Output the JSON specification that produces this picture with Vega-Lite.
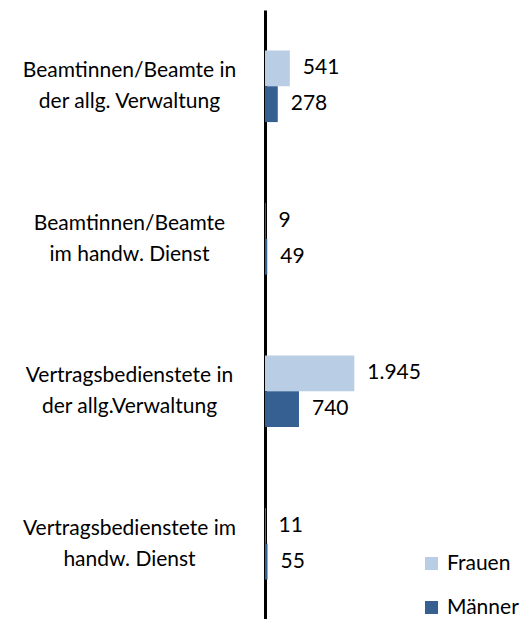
{
  "$schema": "https://vega.github.io/schema/vega-lite/v6.json",
  "width": 264,
  "height": 610,
  "autosize": "none",
  "padding": {"left": 265, "top": 10, "right": 0, "bottom": 0},
  "background": "white",
  "config": {
    "view": {"stroke": null},
    "font": "Lato",
    "locale": {"number": {"decimal": ",", "thousands": ".", "grouping": [3], "currency": ["", " €"]}}
  },
  "data": {
    "values": [
      {"kategorie": "Beamtinnen/Beamte in|der allg. Verwaltung", "geschlecht": "Frauen", "anzahl": 541},
      {"kategorie": "Beamtinnen/Beamte in|der allg. Verwaltung", "geschlecht": "Männer", "anzahl": 278},
      {"kategorie": "Beamtinnen/Beamte|im handw. Dienst", "geschlecht": "Frauen", "anzahl": 9},
      {"kategorie": "Beamtinnen/Beamte|im handw. Dienst", "geschlecht": "Männer", "anzahl": 49},
      {"kategorie": "Vertragsbedienstete in|der allg.Verwaltung", "geschlecht": "Frauen", "anzahl": 1945},
      {"kategorie": "Vertragsbedienstete in|der allg.Verwaltung", "geschlecht": "Männer", "anzahl": 740},
      {"kategorie": "Vertragsbedienstete im|handw. Dienst", "geschlecht": "Frauen", "anzahl": 11},
      {"kategorie": "Vertragsbedienstete im|handw. Dienst", "geschlecht": "Männer", "anzahl": 55}
    ]
  },
  "encoding": {
    "y": {
      "field": "kategorie", "type": "nominal", "sort": null,
      "scale": {"paddingInner": 0.53, "paddingOuter": 0.265},
      "axis": {
        "title": null, "ticks": false, "grid": false,
        "domainColor": "black", "domainWidth": 3,
        "labelExpr": "split(datum.label, '|')",
        "labelAlign": "center", "labelPadding": 136,
        "labelFontSize": 21, "labelLineHeight": 31, "labelColor": "black",
        "labelLimit": 300, "labelBaseline": "middle", "labelOffset": -15
      }
    },
    "yOffset": {"field": "geschlecht", "type": "nominal", "sort": ["Frauen", "Männer"]},
    "x": {
      "field": "anzahl", "type": "quantitative",
      "scale": {"domain": [0, 5750], "nice": false},
      "axis": null
    }
  },
  "layer": [
    {
      "mark": {"type": "bar"},
      "encoding": {
        "color": {
          "field": "geschlecht", "type": "nominal",
          "scale": {"domain": ["Frauen", "Männer"], "range": ["#b9cde5", "#366092"]},
          "legend": {
            "title": null, "orient": "none", "legendX": 156, "legendY": 543,
            "symbolType": "square", "symbolSize": 170, "symbolStrokeWidth": 0,
            "labelFontSize": 21, "labelColor": "black", "rowPadding": 22, "labelOffset": 5
          }
        }
      }
    },
    {
      "mark": {"type": "text", "align": "left", "baseline": "middle", "dx": 13, "fontSize": 21, "color": "black"},
      "encoding": {
        "text": {"field": "anzahl", "type": "quantitative", "format": ",d"}
      }
    }
  ]
}
